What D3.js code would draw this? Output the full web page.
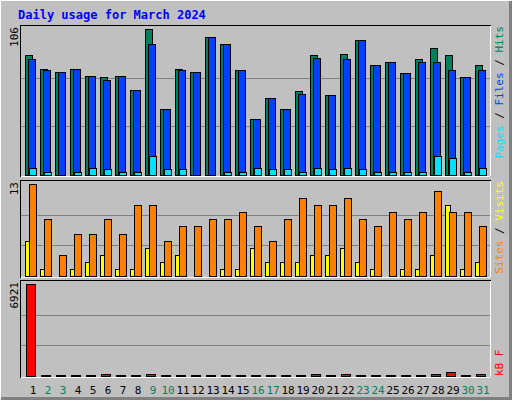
<!DOCTYPE html>
<html><head><meta charset="utf-8">
<script src="https://cdn.jsdelivr.net/npm/d3@7"></script>
<style>body{margin:0;background:#fff}svg{display:block}</style>
</head><body>
<script>
var days = d3.range(1, 32);
var weekend = [2, 3, 9, 10, 16, 17, 23, 24, 30, 31];
var hits  = [87,77,75,77,72,71,72,62,106,48,77,75,100,95,76,41,56,48,61,87,58,88,98,80,82,74,84,92,87,71,80];
var files = [84,76,75,77,72,69,72,62,95,48,76,75,100,95,76,41,56,48,59,85,58,84,98,80,82,74,82,82,76,71,76];
var pages = [5,2,0,2,5,4,2,2,14,4,4,0,0,2,2,5,4,4,2,5,4,5,4,2,2,2,2,14,12,2,5];
var visits = [13,8,3,6,6,8,6,10,10,5,7,7,8,8,9,7,5,8,11,10,10,11,8,7,9,8,9,12,9,9,7];
var sites  = [5,1,0,1,2,3,1,1,4,2,3,0,0,1,1,4,2,2,2,3,3,4,2,1,0,1,1,3,10,1,2];
var kbytes = [6921,0,0,0,0,150,0,0,150,0,0,0,0,0,0,0,0,0,0,150,0,150,0,0,0,0,0,150,330,0,150];

var W = 512, H = 400;
var svg = d3.select('body').append('svg').attr('width', W).attr('height', H);
var mono = "'DejaVu Sans Mono', monospace";

// outer frame
svg.append('rect').attr('width', W).attr('height', H).attr('fill', '#c0c0c0');
svg.append('path').attr('d', 'M0.5 399.5V0.5H511.5').attr('stroke', '#fff').attr('fill', 'none');
svg.append('path').attr('d', 'M1 398.5H510.5V1').attr('stroke', '#808080').attr('stroke-width', 3).attr('fill', 'none');

svg.append('text').attr('x', 18).attr('y', 19).text('Daily usage for March 2024')
  .attr('font-family', mono).attr('font-size', 12).attr('font-weight', 'bold').attr('fill', '#0000ff');

var x = d3.scaleLinear().domain([1, 32]).range([25, 490]);

function panel(top, bottom, max) {
  svg.append('rect').attr('x', 20.5).attr('y', top + 0.5).attr('width', 470).attr('height', bottom - top)
    .attr('fill', '#c0c0c0').attr('stroke', '#000');
  svg.append('path').attr('d', 'M' + 490.5 + ' ' + (top + 1) + 'V' + (bottom + 0.5) + 'H21')
    .attr('stroke', '#fff').attr('fill', 'none');
  var y = d3.scaleLinear().domain([0, max]).range([bottom - 1, top + 4]);
  [1 / 3, 2 / 3].forEach(function (f) {
    svg.append('line').attr('x1', 21).attr('x2', 490).attr('y1', Math.round(y(max * f)) + 0.5)
      .attr('y2', Math.round(y(max * f)) + 0.5).attr('stroke', '#808080');
  });
  svg.append('text').attr('transform', 'translate(18,' + (top + 2) + ') rotate(-90)')
    .attr('text-anchor', 'end').attr('font-family', mono).attr('font-size', 11).text(max);
  return y;
}

function bars(y, data, dx, w, color, minH) {
  svg.append('g').selectAll('rect').data(data).enter().append('rect')
    .attr('x', function (d, i) { return x(days[i]) + dx + 0.5; })
    .attr('y', function (d) { return Math.min(Math.round(y(d)), y.range()[0] - (minH || 0)) + 0.5; })
    .attr('width', w)
    .attr('height', function (d) { return Math.max(minH || 0, y.range()[0] - Math.round(y(d))); })
    .attr('fill', color).attr('stroke', '#000');
}

function legend(yPos, anchor, parts) {
  var t = svg.append('text').attr('transform', 'translate(503,' + yPos + ') rotate(-90)')
    .attr('text-anchor', anchor).attr('font-family', mono).attr('font-size', 11);
  parts.forEach(function (p) { t.append('tspan').attr('fill', p[1]).text(p[0]); });
}

var y1 = panel(25, 176, 106);
bars(y1, hits, 0, 7, '#00805c');
bars(y1, files, 3, 7, '#0040ff');
bars(y1, pages, 4, 7, '#00e0ff');
legend(26, 'end', [['Pages', '#00e0ff'], [' / ', '#000'], ['Files', '#0040ff'], [' / ', '#000'], ['Hits', '#00805c']]);

var y2 = panel(180, 277, 13);
bars(y2, sites, 0, 5, '#ffff00');
bars(y2, visits, 4, 7, '#ff8000');
legend(181, 'end', [['Sites', '#ff8000'], [' / ', '#000'], ['Visits', '#ffff00']]);

var y3 = panel(280, 377, 6921);
bars(y3, kbytes, 1, 9, '#ff0000', 1);
legend(376, 'start', [['kB F', '#ff0000']]);

svg.append('g').selectAll('text').data(days).enter().append('text')
  .attr('x', function (d) { return x(d) + 8; }).attr('y', 394)
  .attr('text-anchor', 'middle').attr('font-family', mono).attr('font-size', 11)
  .attr('fill', function (d) { return weekend.indexOf(d) >= 0 ? '#00805c' : '#000'; })
  .text(function (d) { return d; });
</script>
</body></html>
